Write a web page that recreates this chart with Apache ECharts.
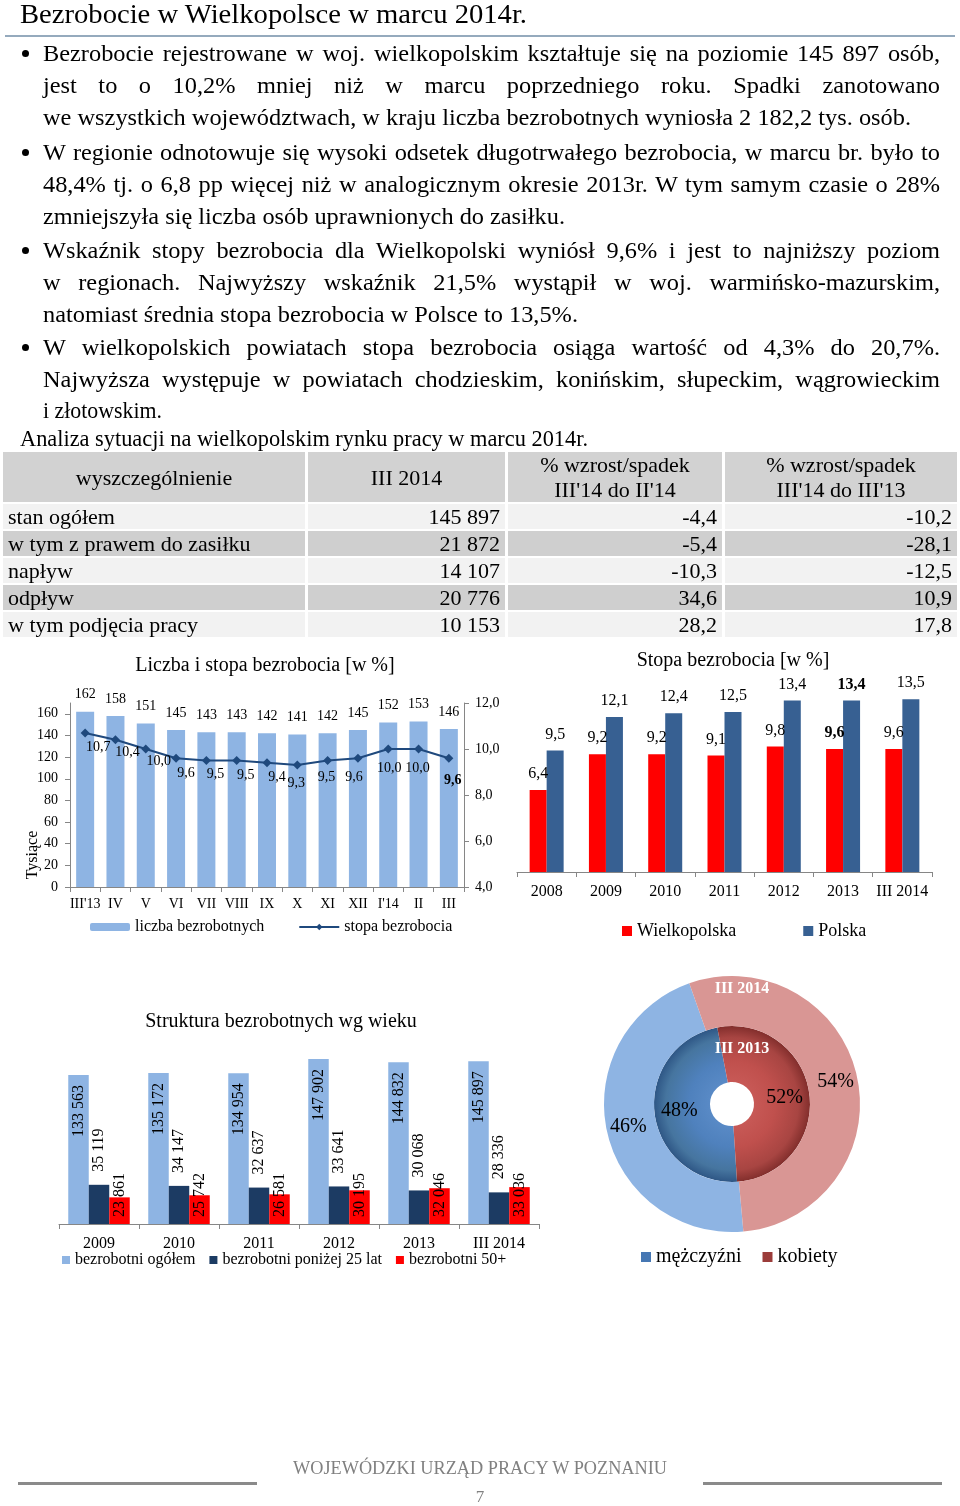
<!DOCTYPE html>
<html>
<head>
<meta charset="utf-8">
<script src="https://cdn.jsdelivr.net/npm/echarts/dist/echarts.min.js"></script>
<style>
  html, body { margin: 0; padding: 0; background: #fff; }
  #page { position: relative; width: 960px; height: 1506px; overflow: hidden;
          font-family: "Liberation Serif", "Times New Roman", serif; color: #000; }
  #chart { position: absolute; left: 0; top: 0; width: 960px; height: 1506px; }
  .ln { position: absolute; white-space: nowrap; font-size: 22px; line-height: 28px;
        transform-origin: 0 50%; }
  .dot { position: absolute; width: 7px; height: 7px; border-radius: 50%; background: #000; }
  table.t { position: absolute; left: 0; top: 450px; width: 960px; table-layout: fixed;
            border-collapse: separate; border-spacing: 3px 2px; font-size: 22px; }
  table.t td { padding: 0 5px; white-space: nowrap; overflow: hidden; height: 25px; line-height: 25px; }
  table.t tr.h td { height: 50px; background: #d2d2d2; text-align: center; line-height: 25px; }
  table.t tr.g td { background: #cfcfcf; }
  table.t tr.l td { background: #f2f2f2; }
  table.t td.num { text-align: right; }
</style>
</head>
<body>
<div id="page">
  <div id="chart"></div>
</div>
<script>
// ---------------- DATA ----------------
const pageTitle = 'Bezrobocie w Wielkopolsce w marcu 2014r.';
const bulletLines = [
  ['Bezrobocie rejestrowane w woj. wielkopolskim kształtuje się na poziomie 145 897 osób,',
   'jest to o 10,2% mniej niż w marcu poprzedniego roku. Spadki zanotowano',
   'we wszystkich województwach, w kraju liczba bezrobotnych wyniosła 2 182,2 tys. osób.'],
  ['W regionie odnotowuje się wysoki odsetek długotrwałego bezrobocia, w marcu br. było to',
   '48,4% tj. o 6,8 pp więcej niż w analogicznym okresie 2013r. W tym samym czasie o 28%',
   'zmniejszyła się liczba osób uprawnionych do zasiłku.'],
  ['Wskaźnik stopy bezrobocia dla Wielkopolski wyniósł 9,6% i jest to najniższy poziom',
   'w regionach. Najwyższy wskaźnik 21,5% wystąpił w woj. warmińsko-mazurskim,',
   'natomiast średnia stopa bezrobocia w Polsce to 13,5%.'],
  ['W wielkopolskich powiatach stopa bezrobocia osiąga wartość od 4,3% do 20,7%.',
   'Najwyższa występuje w powiatach chodzieskim, konińskim, słupeckim, wągrowieckim',
   'i złotowskim.']
];
const tableCaption = 'Analiza sytuacji na wielkopolskim rynku pracy w marcu 2014r.';
const tableHeaders = ['wyszczególnienie', 'III 2014', "% wzrost/spadek<br>III'14 do II'14", "% wzrost/spadek<br>III'14 do III'13"];
const rowLabels = ['stan ogółem', 'w tym z prawem do zasiłku', 'napływ', 'odpływ', 'w tym podjęcia pracy'];
const valuesIII2014 = ['145 897', '21 872', '14 107', '20 776', '10 153'];
const changeVsFeb = ['-4,4', '-5,4', '-10,3', '34,6', '28,2'];
const changeVsYearAgo = ['-10,2', '-28,1', '-12,5', '10,9', '17,8'];

const months = ["III'13", 'IV', 'V', 'VI', 'VII', 'VIII', 'IX', 'X', 'XI', 'XII', "I'14", 'II', 'III'];
const unemployedThousands = [162, 158, 151, 145, 143, 143, 142, 141, 142, 145, 152, 153, 146];
const unemploymentRate = [10.7, 10.4, 10.0, 9.6, 9.5, 9.5, 9.4, 9.3, 9.5, 9.6, 10.0, 10.0, 9.6];

const rateYears = ['2008', '2009', '2010', '2011', '2012', '2013', 'III 2014'];
const rateWielkopolska = [6.4, 9.2, 9.2, 9.1, 9.8, 9.6, 9.6];
const ratePolska = [9.5, 12.1, 12.4, 12.5, 13.4, 13.4, 13.5];

const ageYears = ['2009', '2010', '2011', '2012', '2013', 'III 2014'];
const ageTotal = [133563, 135172, 134954, 147902, 144832, 145897];
const ageUnder25 = [35119, 34147, 32637, 33641, 30068, 28336];
const age50plus = [23861, 25742, 26581, 30195, 32046, 33036];

const genderNames = ['mężczyźni', 'kobiety'];
const gender2013 = [48, 52];
const gender2014 = [46, 54];

const footerText = 'WOJEWÓDZKI URZĄD PRACY W POZNANIU';
const pageNumber = '7';

// ---------------- LAYOUT (HTML text) ----------------
const FONT = '"Liberation Serif", "Times New Roman", serif';
const page = document.getElementById('page');

function addLine(text, x, cy, size, opts) {
  const el = document.createElement('div');
  el.className = 'ln';
  el.textContent = text;
  el.style.left = x + 'px';
  el.style.fontSize = size + 'px';
  el.style.lineHeight = Math.round(size * 1.3) + 'px';
  el.style.top = (cy - Math.round(size * 1.3) / 2) + 'px';
  if (opts && opts.color) el.style.color = opts.color;
  page.appendChild(el);
  return el;
}
function fitPlain(el, target) {
  const w = el.getBoundingClientRect().width;
  el.style.transform = 'scaleX(' + (target / w) + ')';
  return target / w;
}
function fitJustify(el, target, s) {
  const w = el.getBoundingClientRect().width;
  const n = (el.textContent.match(/ /g) || []).length;
  el.style.wordSpacing = ((target / s - w) / n) + 'px';
  el.style.transform = 'scaleX(' + s + ')';
}

// title + rule
const tEl = addLine(pageTitle, 20, 14, 28);
fitPlain(tEl, 507);
const rule = document.createElement('div');
rule.style.cssText = 'position:absolute;left:5px;top:35px;width:950px;height:2px;background:#95aabd;';
page.appendChild(rule);

// bullets
const BODY = 24;
const bulletY = [[53, 85, 117], [152, 184, 216], [250, 282, 314], [347, 379, 410]];
const lastLineWidths = [868, 522, 535, 119];
const els = [];
bulletLines.forEach((para, p) => {
  const d = document.createElement('div');
  d.className = 'dot';
  d.style.left = '22px';
  d.style.top = (bulletY[p][0] - 3) + 'px';
  page.appendChild(d);
  para.forEach((txt, i) => {
    els.push({ el: addLine(txt, 43, bulletY[p][i], BODY), p, i });
  });
});
// reference compression from the unjustified lines
let sum = 0;
els.filter(o => o.i === 2 && o.p < 3).forEach(o => { sum += lastLineWidths[o.p] / o.el.getBoundingClientRect().width; });
let sRef = sum / 3;
sRef = Math.min(1.1, Math.max(0.8, sRef));
els.forEach(o => {
  if (o.i === 2) fitPlain(o.el, lastLineWidths[o.p]);
  else fitJustify(o.el, 897, sRef);
});
const capEl = addLine(tableCaption, 20, 438, BODY);
fitPlain(capEl, 568);

// table
(function () {
  const t = document.createElement('table');
  t.className = 't';
  let html = '<colgroup><col style="width:302px"><col style="width:197px"><col style="width:214px"><col style="width:232px"></colgroup>';
  html += '<tr class="h">' + tableHeaders.map(h => '<td>' + h + '</td>').join('') + '</tr>';
  rowLabels.forEach((r, i) => {
    html += '<tr class="' + (i % 2 === 0 ? 'l' : 'g') + '"><td>' + r + '</td><td class="num">' + valuesIII2014[i] +
      '</td><td class="num">' + changeVsFeb[i] + '</td><td class="num">' + changeVsYearAgo[i] + '</td></tr>';
  });
  t.innerHTML = html;
  page.appendChild(t);
})();

// footer
const fEl = addLine(footerText, 293, 1467, 19, { color: '#808080' });
fitPlain(fEl, 374);
['left:18px', 'left:703px'].forEach(l => {
  const d = document.createElement('div');
  d.style.cssText = 'position:absolute;' + l + ';top:1482px;width:239px;height:3px;background:#8a8a8a;';
  page.appendChild(d);
});
const pn = document.createElement('div');
pn.style.cssText = 'position:absolute;left:0;width:960px;text-align:center;top:1486px;font-size:17px;line-height:22px;color:#808080;';
pn.textContent = pageNumber;
page.appendChild(pn);

// ---------------- CHARTS ----------------
const comma1 = v => Number(v).toFixed(1).replace('.', ',');
const thousands = v => String(v).replace(/\B(?=(\d{3})+(?!\d))/g, ' ');

const rateLabelOffsets = [[13, -2.5], [12, -3.5], [13, -4], [10, -1.5], [9, -3], [9, -2], [10, -2],
  [-1, 1.5], [-1, 0], [-4, 2.5], [1, 3], [-1, 3], [4, 5.5]];
const rateData = unemploymentRate.map((v, i) => ({
  value: v,
  label: { offset: rateLabelOffsets[i], fontWeight: i === unemploymentRate.length - 1 ? 'bold' : 'normal' }
}));
const boldIdx = 5;
const wData = rateWielkopolska.map((v, i) => ({ value: v, label: { fontWeight: i === boldIdx ? 'bold' : 'normal' } }));
const pData = ratePolska.map((v, i) => ({ value: v, label: { fontWeight: i === boldIdx ? 'bold' : 'normal' } }));

const PC = [732, 1104];
function radial(stops) {
  return { type: 'radial', x: PC[0], y: PC[1], r: 78, global: true,
    colorStops: stops.map(s => ({ offset: s[0], color: s[1] })) };
}
const innerColors = [
  radial([[0, '#6393cf'], [0.55, '#4f81bd'], [0.85, '#46759f'], [1, '#2e5685']]),
  radial([[0, '#cf625f'], [0.55, '#c0504d'], [0.85, '#a84542'], [1, '#822e2c']])
];
const outerColors = ['#8eb4e3', '#d99694'];

const axisGray = '#868686';
const catAxis = (grid, data, size, margin) => ({
  type: 'category', gridIndex: grid, data: data,
  axisLine: { show: true, lineStyle: { color: axisGray, width: 1 } },
  axisTick: { show: true, length: 5, lineStyle: { color: axisGray } },
  axisLabel: { interval: 0, fontSize: size, color: '#000', margin: margin, fontFamily: FONT },
  splitLine: { show: false }
});

const option = {
  animation: false,
  textStyle: { fontFamily: FONT, color: '#000' },
  grid: [
    { left: 70, top: 703, width: 394, height: 184, containLabel: false },
    { left: 517, top: 667.2, width: 415, height: 204.8, containLabel: false },
    { left: 59, top: 1045.4, width: 480, height: 178.6, containLabel: false }
  ],
  xAxis: [
    catAxis(0, months, 14, 10),
    catAxis(1, rateYears, 16, 12),
    catAxis(2, ageYears, 16, 12)
  ],
  yAxis: [
    { type: 'value', gridIndex: 0, min: 0, max: 170, interval: 20,
      axisLine: { show: true, lineStyle: { color: axisGray } },
      axisTick: { show: true, length: 5, lineStyle: { color: axisGray } },
      axisLabel: { fontSize: 14, color: '#000', margin: 12, showMaxLabel: false, fontFamily: FONT },
      splitLine: { show: false } },
    { type: 'value', gridIndex: 0, position: 'right', min: 4, max: 12, interval: 2,
      axisLine: { show: true, lineStyle: { color: axisGray } },
      axisTick: { show: true, length: 5, lineStyle: { color: axisGray } },
      axisLabel: { fontSize: 14, color: '#000', margin: 11, formatter: comma1, fontFamily: FONT },
      splitLine: { show: false } },
    { type: 'value', gridIndex: 1, min: 0, max: 16, show: false, splitLine: { show: false } },
    { type: 'value', gridIndex: 2, min: 0, max: 160000, show: false, splitLine: { show: false } }
  ],
  legend: [
    { data: ['liczba bezrobotnych', 'stopa bezrobocia'], left: 90, top: 919, itemWidth: 40, itemHeight: 8,
      itemGap: 34, padding: 0, textStyle: { fontSize: 16, color: '#000', fontFamily: FONT } },
    { data: ['Wielkopolska', 'Polska'], left: 622, top: 922, itemWidth: 10, itemHeight: 10, icon: 'rect',
      itemGap: 67, padding: 0, textStyle: { fontSize: 18, color: '#000', fontFamily: FONT } },
    { data: ['bezrobotni ogółem', 'bezrobotni poniżej 25 lat', 'bezrobotni 50+'], left: 62, top: 1252,
      itemWidth: 8, itemHeight: 8, icon: 'rect', itemGap: 14, padding: 0,
      textStyle: { fontSize: 16, color: '#000', fontFamily: FONT } },
    { data: [{ name: genderNames[0], itemStyle: { color: '#4677b3' } }, { name: genderNames[1], itemStyle: { color: '#9b3c3a' } }],
      left: 641, top: 1247, itemWidth: 10, itemHeight: 10, icon: 'rect', itemGap: 21, padding: 0,
      textStyle: { fontSize: 20, color: '#000', fontFamily: FONT } }
  ],
  graphic: [
    { type: 'text', x: 265, y: 666, z: 100, style: { text: 'Liczba i stopa bezrobocia [w %]', fontSize: 20, fontFamily: FONT, fill: '#000', align: 'center', verticalAlign: 'middle' } },
    { type: 'text', x: 733, y: 661, z: 100, style: { text: 'Stopa bezrobocia [w %]', fontSize: 20, fontFamily: FONT, fill: '#000', align: 'center', verticalAlign: 'middle' } },
    { type: 'text', x: 281, y: 1022, z: 100, style: { text: 'Struktura bezrobotnych wg wieku', fontSize: 20, fontFamily: FONT, fill: '#000', align: 'center', verticalAlign: 'middle' } },
    { type: 'text', x: 33, y: 855, rotation: Math.PI / 2, z: 100, style: { text: 'Tysiące', fontSize: 16, fontFamily: FONT, fill: '#000', align: 'center', verticalAlign: 'middle' } },
    { type: 'text', x: 742, y: 989, z: 100, style: { text: 'III 2014', fontSize: 16, fontWeight: 'bold', fontFamily: FONT, fill: '#fff', align: 'center', verticalAlign: 'middle' } },
    { type: 'text', x: 742, y: 1049, z: 100, style: { text: 'III 2013', fontSize: 16, fontWeight: 'bold', fontFamily: FONT, fill: '#fff', align: 'center', verticalAlign: 'middle' } }
  ],
  series: [
    { type: 'bar', name: 'liczba bezrobotnych', xAxisIndex: 0, yAxisIndex: 0, data: unemployedThousands,
      barWidth: 18, itemStyle: { color: '#8eb4e3' },
      label: { show: true, position: 'top', distance: 10, fontSize: 14, color: '#000', fontFamily: FONT } },
    { type: 'line', name: 'stopa bezrobocia', xAxisIndex: 0, yAxisIndex: 1, data: rateData, z: 5,
      symbol: 'diamond', symbolSize: 9, lineStyle: { color: '#1f497d', width: 2 }, itemStyle: { color: '#1f497d' },
      label: { show: true, position: 'bottom', distance: 5, fontSize: 14, color: '#000', fontFamily: FONT, formatter: p => comma1(p.value) } },
    { type: 'bar', name: 'Wielkopolska', xAxisIndex: 1, yAxisIndex: 2, data: wData, barWidth: 17, barGap: '0%',
      itemStyle: { color: '#ff0000' },
      label: { show: true, position: 'top', distance: 8, fontSize: 16, color: '#000', fontFamily: FONT, formatter: p => comma1(p.value) } },
    { type: 'bar', name: 'Polska', xAxisIndex: 1, yAxisIndex: 2, data: pData, barWidth: 17, barGap: '0%',
      itemStyle: { color: '#376092' },
      label: { show: true, position: 'top', distance: 8, fontSize: 16, color: '#000', fontFamily: FONT, formatter: p => comma1(p.value) } },
    { type: 'bar', name: 'bezrobotni ogółem', xAxisIndex: 2, yAxisIndex: 3, data: ageTotal, barWidth: 20.5, barGap: '0%',
      itemStyle: { color: '#8eb4e3' },
      label: { show: true, position: 'insideTop', rotate: 90, align: 'right', verticalAlign: 'middle', distance: 10,
        fontSize: 16, color: '#000', fontFamily: FONT, formatter: p => thousands(p.value) } },
    { type: 'bar', name: 'bezrobotni poniżej 25 lat', xAxisIndex: 2, yAxisIndex: 3, data: ageUnder25, barWidth: 20.5, barGap: '0%',
      itemStyle: { color: '#1c3b63' },
      label: { show: true, position: 'top', rotate: 90, align: 'left', verticalAlign: 'middle', distance: 13,
        fontSize: 16, color: '#000', fontFamily: FONT, formatter: p => thousands(p.value) } },
    { type: 'bar', name: 'bezrobotni 50+', xAxisIndex: 2, yAxisIndex: 3, data: age50plus, barWidth: 20.5, barGap: '0%',
      itemStyle: { color: '#ff0000' },
      label: { show: true, position: 'insideBottom', rotate: 90, align: 'left', verticalAlign: 'middle', distance: 7,
        fontSize: 16, color: '#000', fontFamily: FONT, formatter: p => thousands(p.value) } },
    { type: 'pie', name: 'III 2013', center: PC, radius: [22, 78], startAngle: 273.7, clockwise: true,
      avoidLabelOverlap: false, silent: true,
      data: genderNames.map((n, i) => ({ name: n, value: gender2013[i], itemStyle: { color: innerColors[i] } })),
      label: { show: true, position: 'inside', formatter: '{c}%', fontSize: 20, color: '#000', fontFamily: FONT },
      labelLine: { show: false }, itemStyle: { borderWidth: 0 } },
    { type: 'pie', name: 'III 2014', center: PC, radius: [78, 128], startAngle: 275.1, clockwise: true,
      avoidLabelOverlap: false, silent: true,
      data: genderNames.map((n, i) => ({ name: n, value: gender2014[i], itemStyle: { color: outerColors[i] } })),
      label: { show: true, position: 'inside', formatter: '{c}%', fontSize: 20, color: '#000', fontFamily: FONT },
      labelLine: { show: false }, itemStyle: { borderWidth: 0 } }
  ]
};

const chart = echarts.init(document.getElementById('chart'), null, { renderer: 'canvas', width: 960, height: 1506 });
chart.setOption(option);
</script>
</body>
</html>
